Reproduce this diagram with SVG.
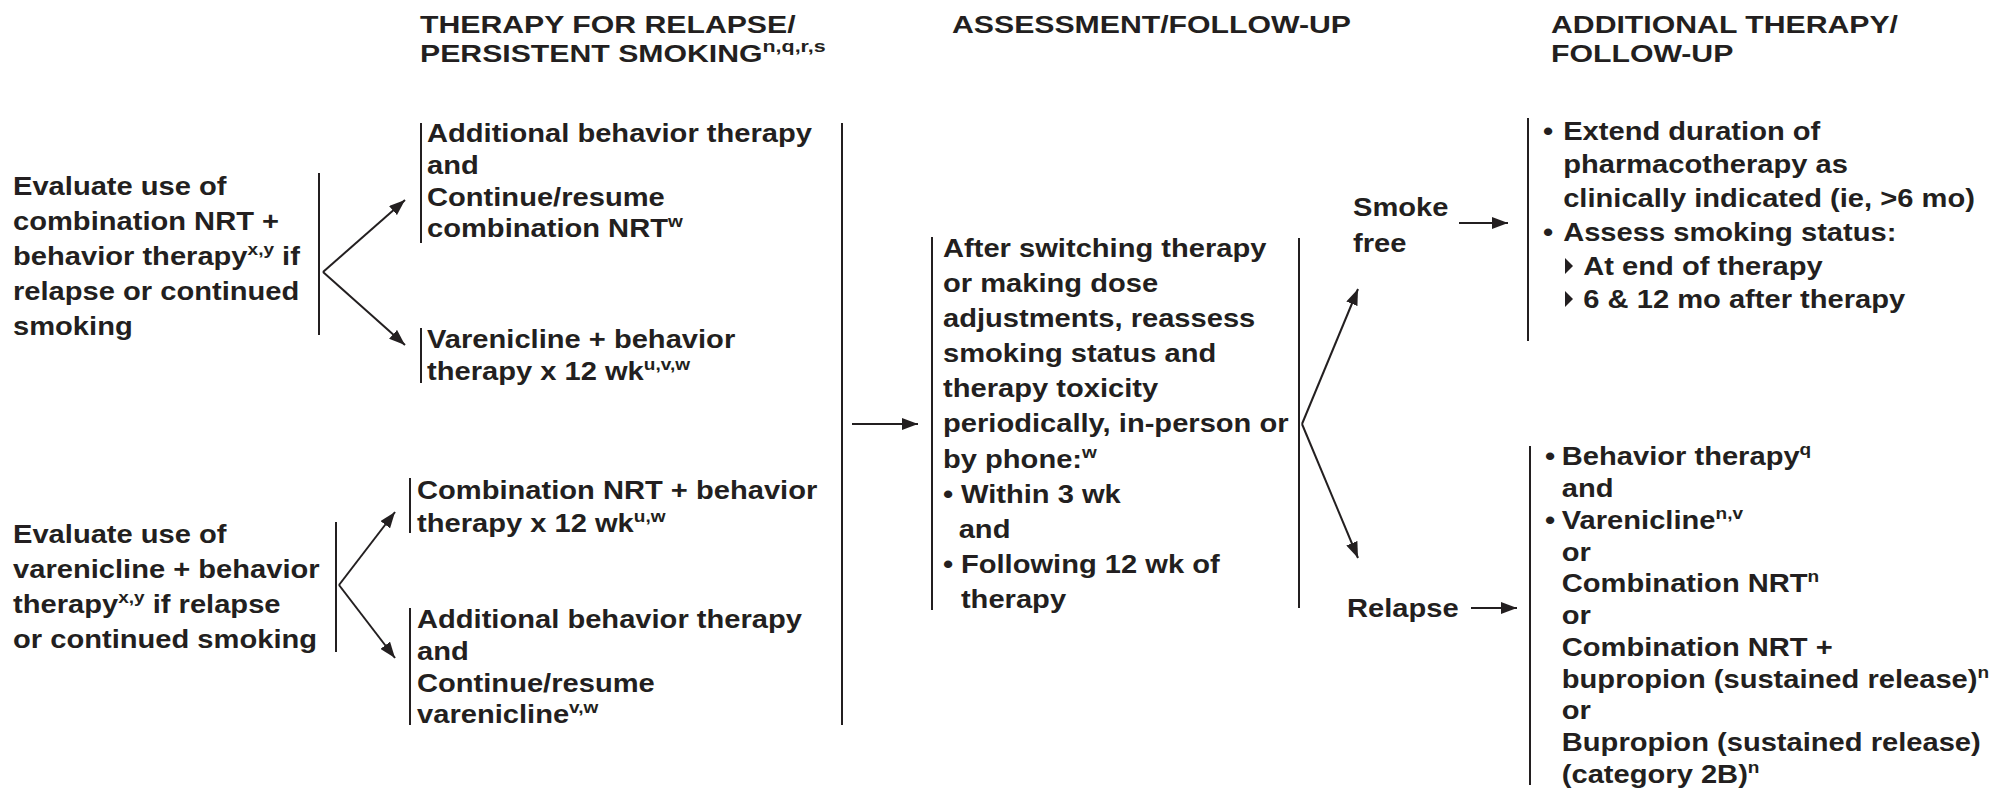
<svg xmlns="http://www.w3.org/2000/svg" width="1996" height="790" viewBox="0 0 1996 790">
<style>
text{font-family:"Liberation Sans",Arial,Helvetica,sans-serif;font-weight:bold;fill:#231f20}
.t{font-size:26px}
.h{font-size:24px}
.s{font-size:17px}
.br{stroke:#231f20;stroke-width:2;fill:none}
.cn{stroke:#231f20;stroke-width:2;fill:none;marker-end:url(#ah)}
</style>
<defs>
<marker id="ah" markerUnits="userSpaceOnUse" markerWidth="18" markerHeight="12" refX="16" refY="6" orient="auto">
<path d="M0,0 L16,6 L0,12 z" fill="#231f20"/>
</marker>
</defs>
<rect width="1996" height="790" fill="#fff"/>

<g id="headers">
<g transform="translate(420 0) scale(1.26 1)">
<text class="h" x="0" y="33">THERAPY FOR RELAPSE/</text>
<text class="h" x="0" y="62">PERSISTENT SMOKING<tspan class="s" dy="-10">n,q,r,s</tspan></text>
</g>
<g transform="translate(952 0) scale(1.26 1)">
<text class="h" x="0" y="33">ASSESSMENT/FOLLOW-UP</text>
</g>
<g transform="translate(1551 0) scale(1.26 1)">
<text class="h" x="0" y="33">ADDITIONAL THERAPY/</text>
<text class="h" x="0" y="62">FOLLOW-UP</text>
</g>
</g>

<g id="eval-nrt">
<g transform="translate(13 0) scale(1.12 1)">
<text class="t" x="0" y="195">Evaluate use of</text>
<text class="t" x="0" y="230">combination NRT +</text>
<text class="t" x="0" y="265">behavior therapy<tspan class="s" dy="-10">x,y</tspan><tspan dy="10"> if</tspan></text>
<text class="t" x="0" y="300">relapse or continued</text>
<text class="t" x="0" y="335">smoking</text>
</g>
<line class="br" x1="319" y1="173" x2="319" y2="335"/>
</g>

<g id="eval-varenicline">
<g transform="translate(13 0) scale(1.12 1)">
<text class="t" x="0" y="543">Evaluate use of</text>
<text class="t" x="0" y="578">varenicline + behavior</text>
<text class="t" x="0" y="613">therapy<tspan class="s" dy="-10">x,y</tspan><tspan dy="10"> if relapse</tspan></text>
<text class="t" x="0" y="648">or continued smoking</text>
</g>
<line class="br" x1="336" y1="522" x2="336" y2="652"/>
</g>

<g id="add-bt-nrt">
<line class="br" x1="421" y1="123" x2="421" y2="243"/>
<g transform="translate(427 0) scale(1.12 1)">
<text class="t" x="0" y="142">Additional behavior therapy</text>
<text class="t" x="0" y="174">and</text>
<text class="t" x="0" y="206">Continue/resume</text>
<text class="t" x="0" y="237">combination NRT<tspan class="s" dy="-10">w</tspan></text>
</g>
</g>

<g id="varenicline-bt">
<line class="br" x1="421" y1="328" x2="421" y2="383"/>
<g transform="translate(427 0) scale(1.12 1)">
<text class="t" x="0" y="348">Varenicline + behavior</text>
<text class="t" x="0" y="380">therapy x 12 wk<tspan class="s" dy="-10">u,v,w</tspan></text>
</g>
</g>

<g id="nrt-bt">
<line class="br" x1="410" y1="478" x2="410" y2="533"/>
<g transform="translate(417 0) scale(1.12 1)">
<text class="t" x="0" y="499">Combination NRT + behavior</text>
<text class="t" x="0" y="532">therapy x 12 wk<tspan class="s" dy="-10">u,w</tspan></text>
</g>
</g>

<g id="add-bt-varenicline">
<line class="br" x1="410" y1="608" x2="410" y2="725"/>
<g transform="translate(417 0) scale(1.12 1)">
<text class="t" x="0" y="628">Additional behavior therapy</text>
<text class="t" x="0" y="660">and</text>
<text class="t" x="0" y="692">Continue/resume</text>
<text class="t" x="0" y="723">varenicline<tspan class="s" dy="-10">v,w</tspan></text>
</g>
<line class="br" x1="842" y1="123" x2="842" y2="725"/>
</g>

<g id="assessment">
<line class="br" x1="932" y1="237" x2="932" y2="610"/>
<g transform="translate(943 0) scale(1.12 1)">
<text class="t" x="0" y="257">After switching therapy</text>
<text class="t" x="0" y="292">or making dose</text>
<text class="t" x="0" y="327">adjustments, reassess</text>
<text class="t" x="0" y="362">smoking status and</text>
<text class="t" x="0" y="397">therapy toxicity</text>
<text class="t" x="0" y="432">periodically, in-person or</text>
<text class="t" x="0" y="468">by phone:<tspan class="s" dy="-10">w</tspan></text>
<text class="t" x="0" y="503">•</text><text class="t" x="16" y="503">Within 3 wk</text>
<text class="t" x="14" y="538">and</text>
<text class="t" x="0" y="573">•</text><text class="t" x="16" y="573">Following 12 wk of</text>
<text class="t" x="16" y="608">therapy</text>
</g>
<line class="br" x1="1299" y1="238" x2="1299" y2="608"/>
</g>

<g id="smoke-free">
<g transform="translate(1353 0) scale(1.12 1)">
<text class="t" x="0" y="216">Smoke</text>
<text class="t" x="0" y="252">free</text>
</g>
</g>

<g id="relapse">
<g transform="translate(1347 0) scale(1.12 1)">
<text class="t" x="0" y="617">Relapse</text>
</g>
</g>

<g id="extend">
<line class="br" x1="1528" y1="118" x2="1528" y2="341"/>
<g transform="translate(1543 0) scale(1.12 1)">
<text class="t" x="0" y="140">•</text><text class="t" x="18" y="140">Extend duration of</text>
<text class="t" x="18" y="173">pharmacotherapy as</text>
<text class="t" x="18" y="207">clinically indicated (ie, &gt;6 mo)</text>
<text class="t" x="0" y="241">•</text><text class="t" x="18" y="241">Assess smoking status:</text>
<text class="t" x="36" y="275">At end of therapy</text>
<text class="t" x="36" y="308">6 &amp; 12 mo after therapy</text>
</g>
<polygon points="1565,258 1573,266 1565,274" fill="#231f20"/>
<polygon points="1565,291 1573,299 1565,307" fill="#231f20"/>
</g>

<g id="relapse-therapy">
<line class="br" x1="1530" y1="446" x2="1530" y2="785"/>
<g transform="translate(1545 0) scale(1.12 1)">
<text class="t" x="0" y="465">•</text><text class="t" x="15" y="465">Behavior therapy<tspan class="s" dy="-10">q</tspan></text>
<text class="t" x="15" y="497">and</text>
<text class="t" x="0" y="529">•</text><text class="t" x="15" y="529">Varenicline<tspan class="s" dy="-10">n,v</tspan></text>
<text class="t" x="15" y="561">or</text>
<text class="t" x="15" y="592">Combination NRT<tspan class="s" dy="-10">n</tspan></text>
<text class="t" x="15" y="624">or</text>
<text class="t" x="15" y="656">Combination NRT +</text>
<text class="t" x="15" y="688">bupropion (sustained release)<tspan class="s" dy="-10">n</tspan></text>
<text class="t" x="15" y="719">or</text>
<text class="t" x="15" y="751">Bupropion (sustained release)</text>
<text class="t" x="15" y="783">(category 2B)<tspan class="s" dy="-10">n</tspan></text>
</g>
</g>

<g id="connectors">
<path class="cn" d="M323,272 L405,200"/>
<path class="cn" d="M323,272 L405,345"/>
<path class="cn" d="M339,585 L395,512"/>
<path class="cn" d="M339,585 L395,658"/>
<path class="cn" d="M852,424 L918,424"/>
<path class="cn" d="M1302,424 L1358,289"/>
<path class="cn" d="M1302,424 L1358,558"/>
<path class="cn" d="M1459,223 L1508,223"/>
<path class="cn" d="M1471,608 L1517,608"/>
</g>
</svg>
